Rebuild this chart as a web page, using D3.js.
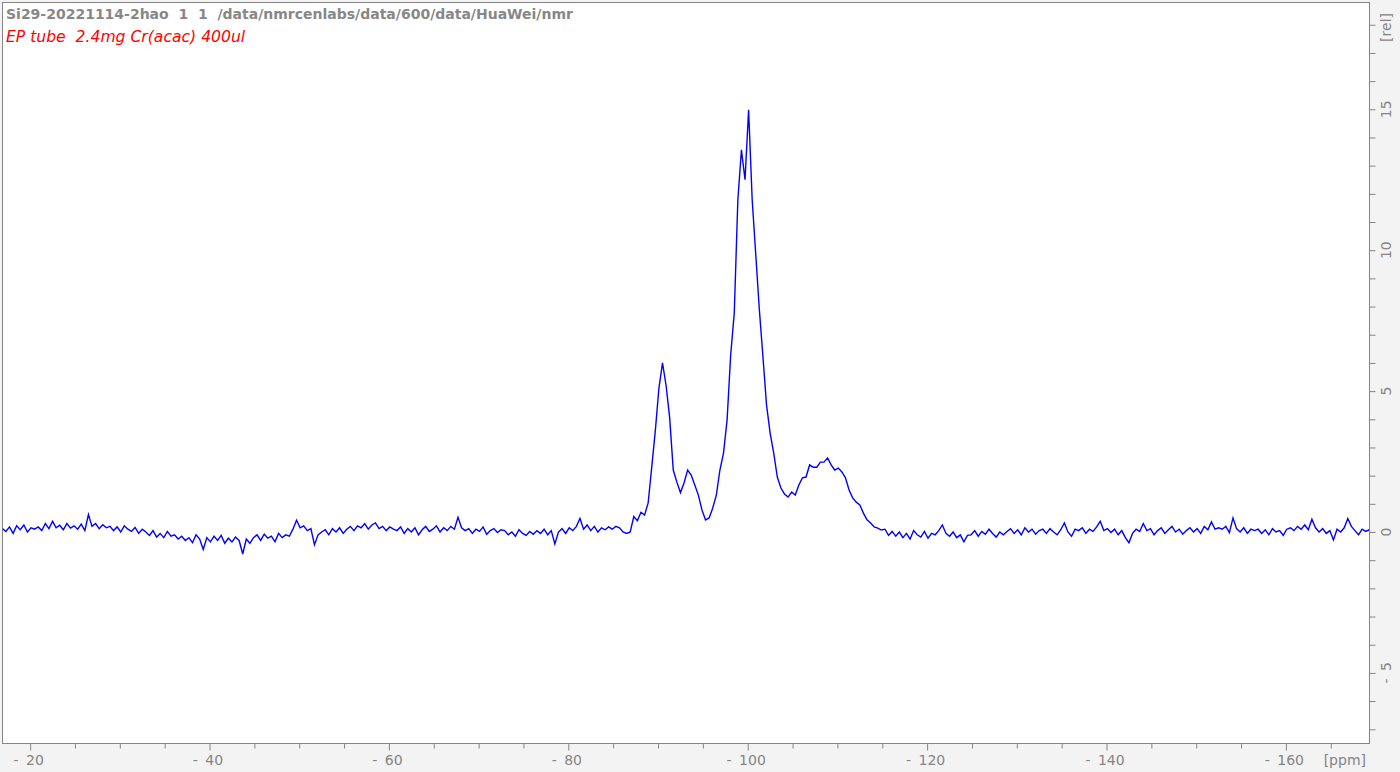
<!DOCTYPE html>
<html>
<head>
<meta charset="utf-8">
<script src="https://cdn.jsdelivr.net/npm/d3@7"></script>
<style>
  html, body { margin: 0; padding: 0; background: #f3f3f3; }
  svg { display: block; }
</style>
</head>
<body>
<svg id="chart" width="1400" height="772"></svg>
<script>
const titleLine = 'Si29-20221114-2hao  1  1  /data/nmrcenlabs/data/600/data/HuaWei/nmr';
const commentLine = 'EP tube  2.4mg Cr(acac) 400ul';

// chemical shift axis (ppm), evenly sampled from left edge to right edge
const ppmStart = -16.9;
const ppmStep = 0.4;

// intensity [rel]
const intensity = [
  0.12, 0.02, 0.18, -0.05, 0.22, 0.08, 0.25, 0.0, 0.15, 0.1,
  0.18, 0.05, 0.3, 0.12, 0.38, 0.15, 0.24, 0.08, 0.3, 0.14,
  0.22, 0.1, 0.28, 0.05, 0.62, 0.2, 0.3, 0.12, 0.26, 0.15,
  0.2, 0.05, 0.18, 0.0, 0.22, 0.1, 0.02, 0.16, -0.05, 0.1,
  0.0, -0.12, 0.05, -0.18, -0.05, -0.2, 0.02, -0.15, -0.1, -0.25,
  -0.15, -0.3, -0.2, -0.38, -0.1, -0.25, -0.62, -0.2, -0.35, -0.15,
  -0.3, -0.12, -0.4, -0.22, -0.35, -0.18, -0.3, -0.78, -0.25, -0.4,
  -0.2, -0.1, -0.3, -0.08, -0.22, -0.15, -0.35, -0.05, -0.2, -0.1,
  -0.15, 0.1, 0.42, 0.15, 0.22, 0.05, 0.12, -0.45, -0.1, 0.0,
  0.08, -0.1, 0.12, 0.0, 0.15, -0.05, 0.1, 0.2, 0.05, 0.22,
  0.15, 0.3, 0.1, 0.25, 0.32, 0.12, 0.2, 0.05, 0.18, 0.1,
  0.05, 0.18, -0.05, 0.12, 0.0, 0.15, -0.1, 0.08, 0.2, 0.02,
  0.1, 0.22, 0.0, 0.15, 0.05, 0.2, 0.1, 0.52, 0.15, 0.05,
  0.12, -0.05, 0.1, 0.02, 0.18, -0.08, 0.05, 0.12, -0.02, 0.08,
  0.05, -0.1, 0.0, -0.15, 0.08, -0.05, -0.12, 0.02, -0.08, 0.05,
  -0.05, 0.1, -0.1, 0.05, -0.42, 0.0, 0.12, -0.05, 0.15, 0.05,
  0.2, 0.48, 0.1, 0.25, 0.05, 0.2, 0.0, 0.15, 0.08, 0.18,
  0.1, 0.2, 0.15, 0.0, -0.05, 0.0, 0.55, 0.4, 0.7, 0.6,
  1.03, 2.3, 3.6, 5.1, 6.0, 5.2, 4.05, 2.2, 1.77, 1.4,
  1.74, 2.2, 2.02, 1.67, 1.31, 0.78, 0.43, 0.5, 0.85, 1.31,
  2.2, 2.8, 3.97, 6.28, 7.77, 11.78, 13.56, 12.5, 14.98, 11.78,
  9.83, 7.88, 6.21, 4.5, 3.51, 2.8, 1.95, 1.56, 1.35, 1.24,
  1.42, 1.31, 1.67, 1.92, 1.95, 2.38, 2.3, 2.3, 2.48, 2.48,
  2.63, 2.38, 2.2, 2.27, 2.13, 1.92, 1.49, 1.21, 1.06, 0.96,
  0.67, 0.43, 0.32, 0.18, 0.14, 0.07, 0.1, -0.12, 0.02, -0.15,
  0.0, -0.2, -0.05, -0.25, 0.05, -0.1, -0.18, 0.02, -0.22, -0.05,
  -0.1, 0.05, 0.25, -0.05, -0.15, 0.0, -0.2, -0.1, -0.35, -0.12,
  -0.1, 0.05, -0.15, 0.02, -0.08, 0.1, -0.05, -0.18, 0.0, -0.1,
  0.02, 0.12, -0.05, 0.08, -0.1, 0.15, 0.0, 0.1, -0.08, 0.05,
  0.1, -0.05, 0.12, 0.0, -0.1, 0.08, 0.32, 0.0, -0.15, 0.1,
  0.05, 0.15, -0.05, 0.1, 0.02, 0.18, 0.38, 0.05, 0.12, -0.02,
  0.1, -0.1, 0.05, -0.2, -0.38, -0.05, 0.1, 0.02, 0.3, 0.05,
  0.12, -0.1, 0.05, 0.15, -0.05, 0.08, 0.2, 0.0, 0.1, -0.08,
  0.05, 0.15, 0.0, 0.12, -0.05, 0.2, 0.08, 0.36, 0.1, 0.15,
  0.1, 0.2, -0.02, 0.5, 0.12, 0.0, 0.15, -0.05, 0.1, 0.05,
  0.1, -0.05, 0.08, -0.1, 0.12, 0.0, 0.05, -0.12, 0.1, 0.15,
  0.05, 0.2, 0.1, 0.25, 0.08, 0.45, 0.15, 0.0, 0.12, -0.05,
  0.05, -0.28, 0.1, 0.0, 0.15, 0.48, 0.2, 0.05, -0.1, 0.1,
  0.02, 0.08
];

const xTicks = d3.range(-20, -166, -5);
const yTicks = d3.range(-7, 19, 1);

const svg = d3.select('#chart');
const plot = { left: 2.5, right: 1369.5, top: 2.5, bottom: 743.5 };
const axisColor = '#858585';
const fontFamily = '"DejaVu Sans", Verdana, sans-serif';

const x = d3.scaleLinear().domain([-16.92, -169.32]).range([plot.left, plot.right]);
const y = d3.scaleLinear().domain([-7.505, 18.79]).range([plot.bottom, plot.top]);

const data = intensity.map((v, i) => ({ ppm: ppmStart - i * ppmStep, v: v }));

svg.append('rect')
  .attr('x', plot.left)
  .attr('y', plot.top)
  .attr('width', plot.right - plot.left)
  .attr('height', plot.bottom - plot.top)
  .attr('fill', '#ffffff')
  .attr('stroke', axisColor)
  .attr('stroke-width', 1);

svg.append('clipPath').attr('id', 'plot-clip')
  .append('rect')
  .attr('x', plot.left)
  .attr('y', plot.top)
  .attr('width', plot.right - plot.left)
  .attr('height', plot.bottom - plot.top);

// spectrum
const valueLine = d3.line()
  .x((d) => x(d.ppm))
  .y((d) => y(d.v));

svg.append('path')
  .datum(data)
  .attr('clip-path', 'url(#plot-clip)')
  .attr('d', valueLine)
  .attr('fill', 'none')
  .attr('stroke', '#0000ff')
  .attr('stroke-width', 1.4);

// x axis
const xAxis = svg.append('g')
  .attr('transform', `translate(0,${plot.bottom})`)
  .call(d3.axisBottom(x)
    .tickValues(xTicks)
    .tickSize(7)
    .tickPadding(5)
    .tickFormat((d) => (d % 20 === 0 ? '- ' + Math.abs(d) : '')));
xAxis.select('.domain').remove();
xAxis.selectAll('.tick line')
  .attr('stroke', axisColor)
  .attr('y2', (d) => (d % 20 === 0 ? 7 : 5));
xAxis.selectAll('.tick text')
  .attr('fill', axisColor)
  .attr('font-family', fontFamily)
  .attr('font-size', 14)
  .attr('dx', -2)
  .style('word-spacing', '3px');

svg.append('text')
  .attr('x', 1366)
  .attr('y', 765)
  .attr('text-anchor', 'end')
  .attr('fill', axisColor)
  .attr('font-family', fontFamily)
  .attr('font-size', 14)
  .text('[ppm]');

// y axis on the right
const yAxis = svg.append('g')
  .attr('transform', `translate(${plot.right},0)`)
  .call(d3.axisRight(y).tickValues(yTicks).tickSize(6).tickFormat(''));
yAxis.select('.domain').remove();
yAxis.selectAll('.tick line').attr('stroke', axisColor);

svg.append('g')
  .selectAll('text')
  .data(yTicks.filter((d) => d % 5 === 0))
  .enter()
  .append('text')
  .attr('transform', (d) => `translate(1391,${y(d)}) rotate(-90)`)
  .attr('text-anchor', 'middle')
  .attr('fill', axisColor)
  .attr('font-family', fontFamily)
  .attr('font-size', 14)
  .style('word-spacing', '3px')
  .text((d) => (d < 0 ? '- ' + Math.abs(d) : d));

svg.append('text')
  .attr('transform', 'translate(1391,13) rotate(-90)')
  .attr('text-anchor', 'end')
  .attr('fill', axisColor)
  .attr('font-family', fontFamily)
  .attr('font-size', 14)
  .text('[rel]');

// header lines
svg.append('text')
  .attr('x', 6)
  .attr('y', 19)
  .attr('fill', '#878787')
  .attr('font-family', fontFamily)
  .attr('font-weight', 'bold')
  .attr('font-size', 14)
  .style('white-space', 'pre')
  .text(titleLine);

svg.append('text')
  .attr('x', 6)
  .attr('y', 42)
  .attr('fill', '#ff0000')
  .attr('font-family', fontFamily)
  .attr('font-style', 'italic')
  .attr('font-size', 15.6)
  .style('white-space', 'pre')
  .text(commentLine);
</script>
</body>
</html>
